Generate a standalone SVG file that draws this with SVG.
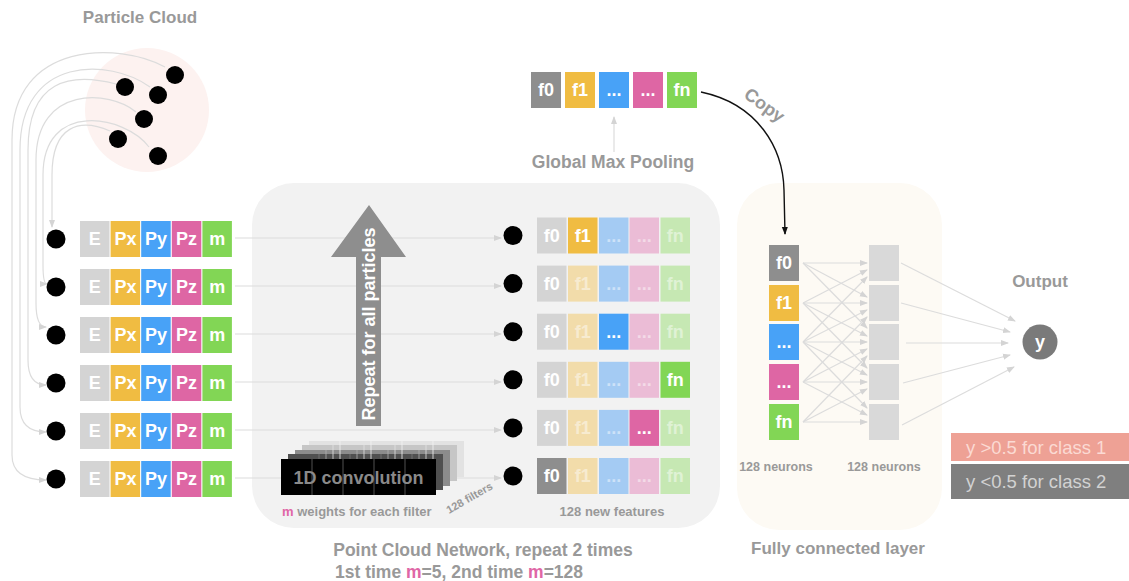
<svg xmlns="http://www.w3.org/2000/svg" width="1129" height="581" viewBox="0 0 1129 581">
<defs>
<marker id="arr" viewBox="0 0 8 8" refX="7" refY="4" markerWidth="8" markerHeight="8" markerUnits="userSpaceOnUse" orient="auto"><path d="M0,1 L8,4 L0,7 z" fill="#d4d4d4"/></marker>
<marker id="arrB" viewBox="0 0 8 8" refX="7" refY="4" markerWidth="8" markerHeight="8" markerUnits="userSpaceOnUse" orient="auto"><path d="M0,1 L8,4 L0,7 z" fill="#111"/></marker>
<style>
.t{font-family:"Liberation Sans",Arial,Helvetica,sans-serif;font-weight:bold;fill:#999}
.bt{font-family:"Liberation Sans",Arial,Helvetica,sans-serif;font-weight:bold;font-size:18px;fill:#fff;text-anchor:middle}
.ft{opacity:0.45}
.ln{fill:none;stroke:#dcdcdc;stroke-width:1.2}
.dot{fill:#000}
.E{fill:#d4d4d4}.Px{fill:#f0bc42}.Py{fill:#48a2f7}.Pz{fill:#de66a4}.M{fill:#82d655}
.G{fill:#8e8e8e}
.fY{fill:#f2dcaa}.fB{fill:#a4cbf3}.fP{fill:#ebbcd6}.fM{fill:#c6e8b3}
.nb{fill:#d9d9d9}
.pk{fill:#e066a6}
</style>
</defs>
<rect width="1129" height="581" fill="#fff"/>

<g id="cloud">
<circle cx="147" cy="110" r="62" fill="#fdf2f0"/>
<text class="t" x="140" y="23" font-size="17" text-anchor="middle">Particle Cloud</text>
</g>
<g id="pcn-panel">
<rect x="252" y="183" width="468" height="345" rx="42" fill="#f2f2f2"/>
</g>
<g id="fc-panel">
<rect x="737" y="183" width="205" height="347" rx="42" fill="#fdfaf4"/>
</g>

<g id="connectors">
<path class="ln" d="M165,67 C120,42 12,40 12,140 L12,455 Q12,480 46,480" marker-end="url(#arr)"/>
<path class="ln" d="M150,87 C110,58 20,55 20,150 L20,407 Q20,432 46,432" marker-end="url(#arr)"/>
<path class="ln" d="M116,84 C70,72 28,80 28,150 L28,360 Q28,385 46,385" marker-end="url(#arr)"/>
<path class="ln" d="M136,112 C110,90 36,85 36,160 L36,303 Q36,327 46,327" marker-end="url(#arr)"/>
<path class="ln" d="M149,147 C125,115 43,100 43,175 L43,265 Q43,284 47,284" marker-end="url(#arr)"/>
<path class="ln" d="M110,131 C80,118 52,125 52,175 L52,227" marker-end="url(#arr)"/>

<path class="ln" d="M235,238 H501" marker-end="url(#arr)"/>
<path class="ln" d="M235,286 H501" marker-end="url(#arr)"/>
<path class="ln" d="M235,334 H501" marker-end="url(#arr)"/>
<path class="ln" d="M235,382 H501" marker-end="url(#arr)"/>
<path class="ln" d="M235,430 H501" marker-end="url(#arr)"/>
<path class="ln" d="M235,478 H501" marker-end="url(#arr)"/>

<path class="ln" d="M614,152 V117" marker-end="url(#arr)"/>
<path d="M701,92 C758,104 783,148 784,190 L785,234" fill="none" stroke="#111" stroke-width="1.4" marker-end="url(#arrB)"/>

<path class="ln" d="M803,263 L867,263" marker-end="url(#arr)"/>
<path class="ln" d="M803,263 L867,297" marker-end="url(#arr)"/>
<path class="ln" d="M803,263 L867,328" marker-end="url(#arr)"/>
<path class="ln" d="M803,303 L867,270" marker-end="url(#arr)"/>
<path class="ln" d="M803,303 L867,303" marker-end="url(#arr)"/>
<path class="ln" d="M803,303 L867,336" marker-end="url(#arr)"/>
<path class="ln" d="M803,303 L867,368" marker-end="url(#arr)"/>
<path class="ln" d="M803,342 L867,277" marker-end="url(#arr)"/>
<path class="ln" d="M803,342 L867,310" marker-end="url(#arr)"/>
<path class="ln" d="M803,342 L867,342" marker-end="url(#arr)"/>
<path class="ln" d="M803,342 L867,375" marker-end="url(#arr)"/>
<path class="ln" d="M803,342 L867,408" marker-end="url(#arr)"/>
<path class="ln" d="M803,382 L867,317" marker-end="url(#arr)"/>
<path class="ln" d="M803,382 L867,349" marker-end="url(#arr)"/>
<path class="ln" d="M803,382 L867,382" marker-end="url(#arr)"/>
<path class="ln" d="M803,382 L867,415" marker-end="url(#arr)"/>
<path class="ln" d="M803,422 L867,356" marker-end="url(#arr)"/>
<path class="ln" d="M803,422 L867,389" marker-end="url(#arr)"/>
<path class="ln" d="M803,422 L867,422" marker-end="url(#arr)"/>

<path class="ln" d="M901,263 L1015,321" marker-end="url(#arr)"/>
<path class="ln" d="M901,303 L1010,332" marker-end="url(#arr)"/>
<path class="ln" d="M906,343 L1008,343" marker-end="url(#arr)"/>
<path class="ln" d="M903,383 L1010,355" marker-end="url(#arr)"/>
<path class="ln" d="M902,425 L1014,367" marker-end="url(#arr)"/>
</g>

<g id="particles">
<circle class="dot" cx="175" cy="75" r="9"/>
<circle class="dot" cx="125" cy="87" r="9"/>
<circle class="dot" cx="158" cy="95" r="9"/>
<circle class="dot" cx="144" cy="119" r="9"/>
<circle class="dot" cx="118" cy="139" r="9"/>
<circle class="dot" cx="158" cy="156" r="9"/>
</g>

<g id="input-rows">
<g id="in1">
<circle class="dot" cx="56" cy="239" r="9.5"/>
<rect class="E" x="80" y="221" width="29.5" height="36"/><text class="bt" x="94.8" y="245">E</text>
<rect class="Px" x="110.6" y="221" width="29.5" height="36"/><text class="bt" x="125.4" y="245">Px</text>
<rect class="Py" x="141.2" y="221" width="29.5" height="36"/><text class="bt" x="156" y="245">Py</text>
<rect class="Pz" x="171.8" y="221" width="29.5" height="36"/><text class="bt" x="186.6" y="245">Pz</text>
<rect class="M" x="202.4" y="221" width="29.5" height="36"/><text class="bt" x="217.2" y="245">m</text>
</g>
<g id="in2" transform="translate(0,48)">
<circle class="dot" cx="56" cy="239" r="9.5"/>
<rect class="E" x="80" y="221" width="29.5" height="36"/><text class="bt" x="94.8" y="245">E</text>
<rect class="Px" x="110.6" y="221" width="29.5" height="36"/><text class="bt" x="125.4" y="245">Px</text>
<rect class="Py" x="141.2" y="221" width="29.5" height="36"/><text class="bt" x="156" y="245">Py</text>
<rect class="Pz" x="171.8" y="221" width="29.5" height="36"/><text class="bt" x="186.6" y="245">Pz</text>
<rect class="M" x="202.4" y="221" width="29.5" height="36"/><text class="bt" x="217.2" y="245">m</text>
</g>
<g id="in3" transform="translate(0,96)">
<circle class="dot" cx="56" cy="239" r="9.5"/>
<rect class="E" x="80" y="221" width="29.5" height="36"/><text class="bt" x="94.8" y="245">E</text>
<rect class="Px" x="110.6" y="221" width="29.5" height="36"/><text class="bt" x="125.4" y="245">Px</text>
<rect class="Py" x="141.2" y="221" width="29.5" height="36"/><text class="bt" x="156" y="245">Py</text>
<rect class="Pz" x="171.8" y="221" width="29.5" height="36"/><text class="bt" x="186.6" y="245">Pz</text>
<rect class="M" x="202.4" y="221" width="29.5" height="36"/><text class="bt" x="217.2" y="245">m</text>
</g>
<g id="in4" transform="translate(0,144)">
<circle class="dot" cx="56" cy="239" r="9.5"/>
<rect class="E" x="80" y="221" width="29.5" height="36"/><text class="bt" x="94.8" y="245">E</text>
<rect class="Px" x="110.6" y="221" width="29.5" height="36"/><text class="bt" x="125.4" y="245">Px</text>
<rect class="Py" x="141.2" y="221" width="29.5" height="36"/><text class="bt" x="156" y="245">Py</text>
<rect class="Pz" x="171.8" y="221" width="29.5" height="36"/><text class="bt" x="186.6" y="245">Pz</text>
<rect class="M" x="202.4" y="221" width="29.5" height="36"/><text class="bt" x="217.2" y="245">m</text>
</g>
<g id="in5" transform="translate(0,192)">
<circle class="dot" cx="56" cy="239" r="9.5"/>
<rect class="E" x="80" y="221" width="29.5" height="36"/><text class="bt" x="94.8" y="245">E</text>
<rect class="Px" x="110.6" y="221" width="29.5" height="36"/><text class="bt" x="125.4" y="245">Px</text>
<rect class="Py" x="141.2" y="221" width="29.5" height="36"/><text class="bt" x="156" y="245">Py</text>
<rect class="Pz" x="171.8" y="221" width="29.5" height="36"/><text class="bt" x="186.6" y="245">Pz</text>
<rect class="M" x="202.4" y="221" width="29.5" height="36"/><text class="bt" x="217.2" y="245">m</text>
</g>
<g id="in6" transform="translate(0,240)">
<circle class="dot" cx="56" cy="239" r="9.5"/>
<rect class="E" x="80" y="221" width="29.5" height="36"/><text class="bt" x="94.8" y="245">E</text>
<rect class="Px" x="110.6" y="221" width="29.5" height="36"/><text class="bt" x="125.4" y="245">Px</text>
<rect class="Py" x="141.2" y="221" width="29.5" height="36"/><text class="bt" x="156" y="245">Py</text>
<rect class="Pz" x="171.8" y="221" width="29.5" height="36"/><text class="bt" x="186.6" y="245">Pz</text>
<rect class="M" x="202.4" y="221" width="29.5" height="36"/><text class="bt" x="217.2" y="245">m</text>
</g>
</g>

<g id="repeat-arrow">
<polygon points="331,257 369,205 406,257 381,257 381,426 356,426 356,257" fill="#8e8e8e"/>
<text class="bt" transform="translate(375,324) rotate(-90)" font-size="17">Repeat for all particles</text>
</g>

<g id="conv">
<g stroke-width="0.8">
<rect x="309" y="441" width="155" height="36" fill="#e2e2e2"/>
<rect x="302" y="445" width="155" height="36" fill="#c6c6c6"/>
<rect x="295" y="450" width="155" height="36" fill="#8c8c8c"/>
<rect x="288" y="454" width="155" height="36" fill="#505050"/>
<path d="M340,441V477M371,441V477M402,441V477M433,441V477" stroke="#f4f4f4"/>
<path d="M333,445V481M364,445V481M395,445V481M426,445V481" stroke="#e2e2e2"/>
<path d="M326,450V486M357,450V486M388,450V486M419,450V486" stroke="#b0b0b0"/>
<path d="M319,454V490M350,454V490M381,454V490M412,454V490" stroke="#7a7a7a"/>
<rect x="281" y="459" width="155" height="36" fill="#000"/>
<path d="M312,459V495M343,459V495M374,459V495M405,459V495" stroke="#666"/>
</g>
<text x="358.5" y="484" font-family="Liberation Sans, Arial, sans-serif" font-weight="bold" font-size="18" text-anchor="middle" fill="#8a8a8a">1D convolution</text>
<text class="t" x="282" y="516" font-size="13"><tspan class="pk">m</tspan> weights for each filter</text>
<text class="t" transform="translate(449,514) rotate(-30)" font-size="11">128 filters</text>
</g>

<g id="feat-rows">
<g id="fr1">
<circle class="dot" cx="513" cy="235.5" r="9.5"/>
<rect class="E" x="537" y="217.5" width="29.5" height="36"/><text class="bt" x="551.8" y="241.5">f0</text>
<rect class="Px" x="568" y="217.5" width="29.5" height="36"/><text class="bt" x="582.8" y="241.5">f1</text>
<rect class="fB" x="599" y="217.5" width="29.5" height="36"/><text class="bt ft" x="613.8" y="241.5">...</text>
<rect class="fP" x="629.5" y="217.5" width="29.5" height="36"/><text class="bt ft" x="644.3" y="241.5">...</text>
<rect class="fM" x="660.5" y="217.5" width="29.5" height="36"/><text class="bt ft" x="675.3" y="241.5">fn</text>
</g>
<g id="fr2" transform="translate(0,48.1)">
<circle class="dot" cx="513" cy="235.5" r="9.5"/>
<rect class="E" x="537" y="217.5" width="29.5" height="36"/><text class="bt" x="551.8" y="241.5">f0</text>
<rect class="fY" x="568" y="217.5" width="29.5" height="36"/><text class="bt ft" x="582.8" y="241.5">f1</text>
<rect class="fB" x="599" y="217.5" width="29.5" height="36"/><text class="bt ft" x="613.8" y="241.5">...</text>
<rect class="fP" x="629.5" y="217.5" width="29.5" height="36"/><text class="bt ft" x="644.3" y="241.5">...</text>
<rect class="fM" x="660.5" y="217.5" width="29.5" height="36"/><text class="bt ft" x="675.3" y="241.5">fn</text>
</g>
<g id="fr3" transform="translate(0,96.2)">
<circle class="dot" cx="513" cy="235.5" r="9.5"/>
<rect class="E" x="537" y="217.5" width="29.5" height="36"/><text class="bt" x="551.8" y="241.5">f0</text>
<rect class="fY" x="568" y="217.5" width="29.5" height="36"/><text class="bt ft" x="582.8" y="241.5">f1</text>
<rect class="Py" x="599" y="217.5" width="29.5" height="36"/><text class="bt" x="613.8" y="241.5">...</text>
<rect class="fP" x="629.5" y="217.5" width="29.5" height="36"/><text class="bt ft" x="644.3" y="241.5">...</text>
<rect class="fM" x="660.5" y="217.5" width="29.5" height="36"/><text class="bt ft" x="675.3" y="241.5">fn</text>
</g>
<g id="fr4" transform="translate(0,144.3)">
<circle class="dot" cx="513" cy="235.5" r="9.5"/>
<rect class="E" x="537" y="217.5" width="29.5" height="36"/><text class="bt" x="551.8" y="241.5">f0</text>
<rect class="fY" x="568" y="217.5" width="29.5" height="36"/><text class="bt ft" x="582.8" y="241.5">f1</text>
<rect class="fB" x="599" y="217.5" width="29.5" height="36"/><text class="bt ft" x="613.8" y="241.5">...</text>
<rect class="fP" x="629.5" y="217.5" width="29.5" height="36"/><text class="bt ft" x="644.3" y="241.5">...</text>
<rect class="M" x="660.5" y="217.5" width="29.5" height="36"/><text class="bt" x="675.3" y="241.5">fn</text>
</g>
<g id="fr5" transform="translate(0,192.4)">
<circle class="dot" cx="513" cy="235.5" r="9.5"/>
<rect class="E" x="537" y="217.5" width="29.5" height="36"/><text class="bt" x="551.8" y="241.5">f0</text>
<rect class="fY" x="568" y="217.5" width="29.5" height="36"/><text class="bt ft" x="582.8" y="241.5">f1</text>
<rect class="fB" x="599" y="217.5" width="29.5" height="36"/><text class="bt ft" x="613.8" y="241.5">...</text>
<rect class="Pz" x="629.5" y="217.5" width="29.5" height="36"/><text class="bt" x="644.3" y="241.5">...</text>
<rect class="fM" x="660.5" y="217.5" width="29.5" height="36"/><text class="bt ft" x="675.3" y="241.5">fn</text>
</g>
<g id="fr6" transform="translate(0,240.5)">
<circle class="dot" cx="513" cy="235.5" r="9.5"/>
<rect class="G" x="537" y="217.5" width="29.5" height="36"/><text class="bt" x="551.8" y="241.5">f0</text>
<rect class="fY" x="568" y="217.5" width="29.5" height="36"/><text class="bt ft" x="582.8" y="241.5">f1</text>
<rect class="fB" x="599" y="217.5" width="29.5" height="36"/><text class="bt ft" x="613.8" y="241.5">...</text>
<rect class="fP" x="629.5" y="217.5" width="29.5" height="36"/><text class="bt ft" x="644.3" y="241.5">...</text>
<rect class="fM" x="660.5" y="217.5" width="29.5" height="36"/><text class="bt ft" x="675.3" y="241.5">fn</text>
</g>
<text class="t" x="612" y="516" font-size="13" text-anchor="middle">128 new features</text>
</g>

<g id="pooled">
<rect class="G" x="531" y="72" width="30" height="36"/><text class="bt" x="546" y="96">f0</text>
<rect class="Px" x="565" y="72" width="30" height="36"/><text class="bt" x="580" y="96">f1</text>
<rect class="Py" x="599" y="72" width="30" height="36"/><text class="bt" x="614" y="96">...</text>
<rect class="Pz" x="633" y="72" width="30" height="36"/><text class="bt" x="648" y="96">...</text>
<rect class="M" x="667" y="72" width="30" height="36"/><text class="bt" x="682" y="96">fn</text>
<text class="t" x="613" y="168" font-size="17.5" text-anchor="middle">Global Max Pooling</text>
<text class="t" transform="translate(761,110) rotate(36)" font-size="18" text-anchor="middle">Copy</text>
</g>

<g id="fc-left">
<rect class="G" x="769" y="245" width="30" height="36"/><text class="bt" x="784" y="269">f0</text>
<rect class="Px" x="769" y="285" width="30" height="36"/><text class="bt" x="784" y="309">f1</text>
<rect class="Py" x="769" y="324" width="30" height="36"/><text class="bt" x="784" y="348">...</text>
<rect class="Pz" x="769" y="364" width="30" height="36"/><text class="bt" x="784" y="388">...</text>
<rect class="M" x="769" y="404" width="30" height="36"/><text class="bt" x="784" y="428">fn</text>
<text class="t" x="776" y="471" font-size="12.5" text-anchor="middle">128 neurons</text>
</g>
<g id="fc-right">
<rect class="nb" x="869" y="245" width="30" height="36"/>
<rect class="nb" x="869" y="285" width="30" height="36"/>
<rect class="nb" x="869" y="324" width="30" height="36"/>
<rect class="nb" x="869" y="364" width="30" height="36"/>
<rect class="nb" x="869" y="404" width="30" height="36"/>
<text class="t" x="884" y="471" font-size="12.5" text-anchor="middle">128 neurons</text>
</g>

<g id="output">
<text class="t" x="1040" y="287" font-size="17" text-anchor="middle">Output</text>
<circle cx="1040" cy="342" r="17.5" fill="#7a7a7a"/>
<text class="bt" x="1040" y="348" font-size="17">y</text>
</g>
<g id="classes">
<rect x="951" y="433" width="178" height="28" fill="#eea195"/>
<text x="966" y="454" font-family="Liberation Sans, Arial, sans-serif" font-size="18.5" fill="#fbdad3">y &gt;0.5 for class 1</text>
<rect x="951" y="464" width="178" height="35" fill="#7f7f7f"/>
<text x="966" y="488" font-family="Liberation Sans, Arial, sans-serif" font-size="18.5" fill="#d2d2d2">y &lt;0.5 for class 2</text>
</g>

<g id="captions">
<text class="t" x="483" y="556" font-size="17.5" text-anchor="middle">Point Cloud Network, repeat 2 times</text>
<text class="t" x="335" y="578" font-size="17.5">1st time <tspan class="pk">m</tspan>=5, 2nd time <tspan class="pk">m</tspan>=128</text>
<text class="t" x="838" y="554" font-size="17" text-anchor="middle">Fully connected layer</text>
</g>
</svg>
